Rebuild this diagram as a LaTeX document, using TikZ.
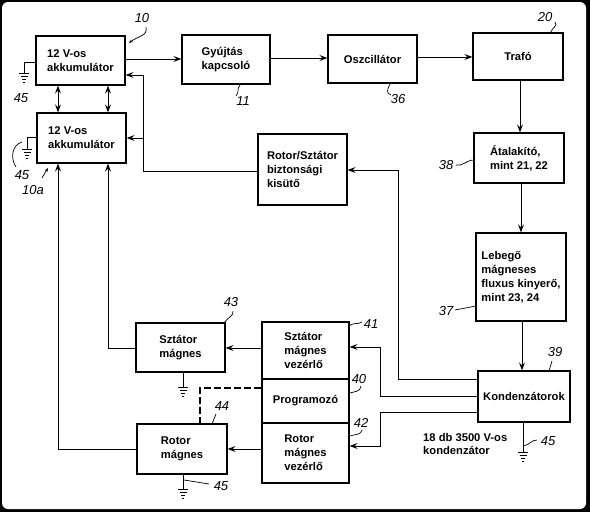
\documentclass[tikz,border=0pt]{standalone}
\usepackage{fontspec}
\setmainfont{Liberation Sans}
\usetikzlibrary{arrows.meta}
\begin{document}
\begin{tikzpicture}[x=1pt,y=-1pt,
 box/.style={draw,line width=1.3pt,inner sep=0pt,font=\bfseries\fontsize{11.2}{14}\selectfont,align=left},
 arr/.style={line width=1pt,-{Stealth[length=8pt,width=6pt,inset=3pt]}},
 darr/.style={line width=1pt,{Stealth[length=8pt,width=6pt,inset=3pt]}-{Stealth[length=8pt,width=6pt,inset=3pt]}},
 ln/.style={line width=1pt},
 lbl/.style={font=\itshape\fontsize{13}{13}\selectfont,inner sep=0pt},
 lead/.style={line width=0.7pt},
 gnd/.pic={\draw[line width=1pt] (-5,0)--(5,0) (-3.5,3)--(3.5,3) (-2,6)--(2,6) (-0.7,9)--(0.7,9);}]
% frame
\fill[black] (0,0) rectangle (590,512);
\fill[white,rounded corners=6pt] (2,2) rectangle (586,509);
\useasboundingbox (0,0) rectangle (590,512);
% boxes
\node[box,minimum width=89pt,minimum height=49pt] (acc1) at (80.5,60.5) {12 V-os\\akkumulátor};
\node[box,minimum width=89pt,minimum height=50pt] (acc2) at (81.5,138) {12 V-os\\akkumulátor};
\node[box,minimum width=88pt,minimum height=49pt] (gyu) at (226,59.5) {Gyújtás\\kapcsoló};
\node[box,minimum width=89pt,minimum height=48pt] (osc) at (372.5,59) {Oszcillátor};
\node[box,minimum width=90pt,minimum height=47pt] (tra) at (518,56.5) {Trafó};
\node[box,minimum width=90pt,minimum height=50pt] (ata) at (519,158) {Átalakító,\\mint 21, 22};
\node[box,minimum width=90pt,minimum height=88pt] (leb) at (521,277) {Lebegő\\mágneses\\fluxus kinyerő,\\mint 23, 24};
\node[box,minimum width=92pt,minimum height=51pt] (kon) at (524,396.5) {Kondenzátorok};
\node[box,minimum width=89pt,minimum height=71pt] (kis) at (302.5,169.5) {Rotor/Sztátor\\biztonsági\\kisütő};
\node[box,minimum width=89pt,minimum height=49pt] (szt) at (180.5,347.5) {Sztátor\\mágnes};
\node[box,minimum width=90pt,minimum height=50pt] (rot) at (182,449) {Rotor\\mágnes};
\node[box,minimum width=87pt,minimum height=57pt] (c1) at (305.5,350.5) {Sztátor\\mágnes\\vezérlő};
\node[box,minimum width=87pt,minimum height=44pt] (prg) at (305.5,401) {Programozó};
\node[box,minimum width=87pt,minimum height=60pt] (c2) at (305.5,453) {Rotor\\mágnes\\vezérlő};
\node[font=\bfseries\fontsize{11.2}{13}\selectfont,align=left,anchor=west,inner sep=0pt] (note) at (423,444) {18 db 3500 V-os\\kondenzátor};
% main chain
\draw[arr] (acc1.east |- 0,59) -- (gyu.west |- 0,59);
\draw[arr] (gyu.east |- 0,58) -- (osc.west |- 0,58);
\draw[arr] (osc.east |- 0,57) -- (tra.west |- 0,57);
\draw[arr] (520,0 |- tra.south) -- (520,0 |- ata.north);
\draw[arr] (521,0 |- ata.south) -- (521,0 |- leb.north);
\draw[arr] (522,0 |- leb.south) -- (522,0 |- kon.north);
% from capacitors
\draw[arr] (kon.west |- 0,379) -| (398,170) -- (kis.east |- 0,170);
\draw[arr] (kon.west |- 0,396) -| (380,347) -- (c1.east |- 0,347);
\draw[arr] (kon.west |- 0,412) -| (380,446) -- (c2.east |- 0,446);
% discharger to batteries
\draw[arr] (kis.west |- 0,171) -| (143,75) -- (acc1.east |- 0,75);
\draw[arr] (143,138) -- (acc2.east |- 0,138);
% battery interconnect
\draw[darr] (58,0 |- acc1.south) -- (58,0 |- acc2.north);
\draw[darr] (108,0 |- acc1.south) -- (108,0 |- acc2.north);
% magnets to batteries
\draw[arr] (szt.west |- 0,348) -| (108,0 |- acc2.south);
\draw[arr] (rot.west |- 0,449) -| (58,0 |- acc2.south);
% controllers to magnets
\draw[arr] (c1.west |- 0,348) -- (szt.east |- 0,348);
\draw[arr] (c2.west |- 0,449) -- (rot.east |- 0,449);
\draw[line width=1.6pt,dash pattern=on 7pt off 3pt] (prg.west |- 0,388) -| (200,0 |- rot.north);
% grounds
\draw[ln] (acc1.west |- 0,62) -| (24,73); \pic at (24,73) {gnd};
\draw[ln] (acc2.west |- 0,137) -| (27,149); \pic at (27,149) {gnd};
\draw[ln] (183,0 |- szt.south) -- (183,387); \pic at (183,387) {gnd};
\draw[ln] (183,0 |- rot.south) -- (183,489); \pic at (183,489) {gnd};
\draw[ln] (523,0 |- kon.south) -- (523,452); \pic at (523,452) {gnd};
% labels
\node[lbl] (l10) at (142,18) {10};
\draw[lead,-{Stealth[length=4pt,width=3pt]}] (146,27) .. controls (148,36) and (138,36) .. (129,43);
\node[lbl] (l45a) at (21,98) {45};
\node[lbl] (l45b) at (22,175) {45};
\draw[lead] (16,167) .. controls (10,158) and (12,145) .. (22,142);
\node[lbl] (l10a) at (33,190) {10a};
\draw[lead,-{Stealth[length=4pt,width=3pt]}] (42,178) -- (48,168);
\node[lbl] (l11) at (243,101) {11};
\draw[lead] (240,85) .. controls (236,90) and (240,91) .. (236,96);
\node[lbl] (l36) at (398,99) {36};
\draw[lead] (390,84) .. controls (387,90) and (386,93) .. (391,95);
\node[lbl] (l20) at (545,17) {20};
\draw[lead] (555,22) .. controls (558,26) and (553,27) .. (550,33);
\node[lbl] (l38) at (446,165) {38};
\draw[lead] (456,165) .. controls (462,167) and (466,160) .. (474,160);
\node[lbl] (l37) at (446,311) {37};
\draw[lead] (455,310) -- (476,306);
\node[lbl] (l39) at (555,352) {39};
\draw[lead] (552,361) -- (549,371);
\node[lbl] (l45c) at (548,441) {45};
\draw[lead] (537,440) .. controls (531,440) and (530,445) .. (523,446);
\node[lbl] (l43) at (231,302) {43};
\draw[lead] (233,311) .. controls (234,316) and (228,317) .. (224,323);
\node[lbl] (l44) at (222,406) {44};
\draw[lead] (216,414) -- (212,424);
\node[lbl] (l45d) at (221,486) {45};
\draw[lead] (184,480) -- (209,484);
\node[lbl] (l41) at (371,324) {41};
\draw[lead] (349,326) .. controls (354,322) and (357,325) .. (362,322);
\node[lbl] (l40) at (359,379) {40};
\draw[lead] (350,393) .. controls (356,391) and (360,392) .. (361,386);
\node[lbl] (l42) at (361,423) {42};
\draw[lead] (350,436) .. controls (356,434) and (361,435) .. (362,430);
\end{tikzpicture}
\end{document}
